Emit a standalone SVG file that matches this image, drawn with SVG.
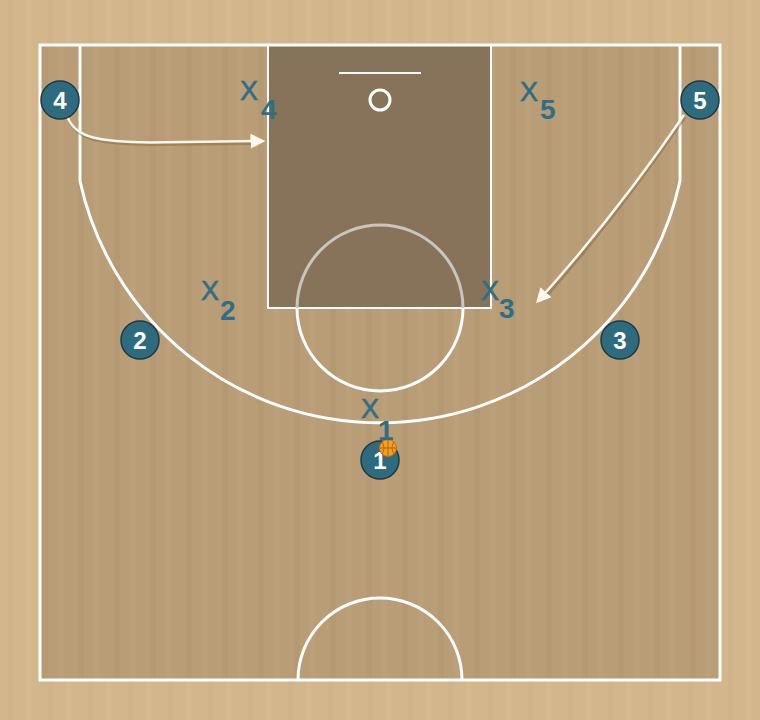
<svg xmlns="http://www.w3.org/2000/svg" width="760" height="720" viewBox="0 0 760 720">
<defs>
<pattern id="wood" width="40" height="720" patternUnits="userSpaceOnUse">
<rect width="40" height="720" fill="#d3b68c"/>
<rect x="8" width="6" height="720" fill="#cfb186" opacity="0.6"/>
<rect x="26" width="5" height="720" fill="#d8bb92" opacity="0.6"/>
</pattern>
<pattern id="woodIn" width="36" height="720" patternUnits="userSpaceOnUse">
<rect width="36" height="720" fill="#b89d77"/>
<rect x="6" width="6" height="720" fill="#b39872" opacity="0.7"/>
<rect x="22" width="5" height="720" fill="#bca17b" opacity="0.7"/>
</pattern>
<marker id="ah" viewBox="0 0 10 10" refX="7" refY="5" markerWidth="6" markerHeight="6" orient="auto" markerUnits="strokeWidth">
<path d="M0,0 L10,5 L0,10 z" fill="#fbf8ee"/>
</marker>
</defs>
<style>
.line{fill:none;stroke:#ffffff;stroke-width:3}
.player circle{fill:#2f6b7e;stroke:#1b3a44;stroke-width:1.5}
.player text{fill:#ffffff;font-family:"Liberation Sans",Arial,sans-serif;font-weight:bold;font-size:24px;text-anchor:middle}
.def text{fill:#2f6e84;font-family:"Liberation Sans",Arial,sans-serif}
.x{font-size:27px;stroke:#2f6e84;stroke-width:0.6}
.sub{font-size:28px;font-weight:bold}
.mv{fill:none;stroke:#fbf8ee;stroke-width:2.5}
.shadow{fill:none;stroke:#7a6448;stroke-width:3;opacity:0.45}
</style>
<rect width="760" height="720" fill="url(#wood)"/>
<g id="court">
<rect x="40" y="45" width="680" height="635" fill="url(#woodIn)"/>
<rect x="268" y="45" width="223" height="263" fill="#86735a"/>
<rect x="40" y="45" width="680" height="635" class="line"/>
<path d="M80,45 L80,181 A307,307 0 0 0 680,181 L680,45" class="line"/>
<rect x="268" y="45" width="223" height="263" fill="none" stroke="#ffffff" stroke-width="2"/>
<path d="M297,308 A83,83 0 0 1 463,308" fill="none" stroke="#c9c6c0" stroke-width="3"/>
<path d="M297,308 A83,83 0 0 0 463,308" class="line"/>
<line x1="339" y1="73" x2="421" y2="73" stroke="#ffffff" stroke-width="2"/>
<circle cx="380" cy="100" r="10" class="line"/>
<path d="M298,680 A82,82 0 0 1 462,680" class="line"/>
</g>
<g id="connectors">
<path d="M68,118 C76,138 100,142 150,142.5 L258,141.5" class="shadow" transform="translate(1,2)"/>
<path d="M68,118 C76,138 100,142 150,142.5 L261,141" class="mv" marker-end="url(#ah)"/>
<path d="M684,115 Q618,212 542,298" class="shadow" transform="translate(1,2)"/>
<path d="M684,115 Q618,212 539,300" class="mv" marker-end="url(#ah)"/>
</g>
<g id="p4" class="player"><circle cx="60" cy="100" r="19"/><text x="60" y="109">4</text></g>
<g id="p5" class="player"><circle cx="700" cy="100" r="19"/><text x="700" y="109">5</text></g>
<g id="p2" class="player"><circle cx="140" cy="340" r="19"/><text x="140" y="349">2</text></g>
<g id="p3" class="player"><circle cx="620" cy="340" r="19"/><text x="620" y="349">3</text></g>
<g id="p1" class="player"><circle cx="380" cy="460" r="19"/><text x="380" y="469">1</text></g>
<g id="ball">
<circle cx="388" cy="448" r="8.5" fill="#f2a020" stroke="#c86a10" stroke-width="1"/>
<path d="M380,448 H396 M388,440 V456 M382,442 Q386,448 382,454 M394,442 Q390,448 394,454" fill="none" stroke="#b85a10" stroke-width="0.9"/>
</g>
<g id="d4" class="def"><text x="240" y="100" class="x">X</text><text x="261" y="119" class="sub">4</text></g>
<g id="d5" class="def"><text x="520" y="101" class="x">X</text><text x="540" y="119" class="sub">5</text></g>
<g id="d2" class="def"><text x="201" y="300" class="x">X</text><text x="220" y="320" class="sub">2</text></g>
<g id="d3" class="def"><text x="481" y="300" class="x">X</text><text x="499" y="318" class="sub">3</text></g>
<g id="d1" class="def"><text x="361" y="418" class="x">X</text><text x="378" y="440" class="sub">1</text></g>
</svg>
